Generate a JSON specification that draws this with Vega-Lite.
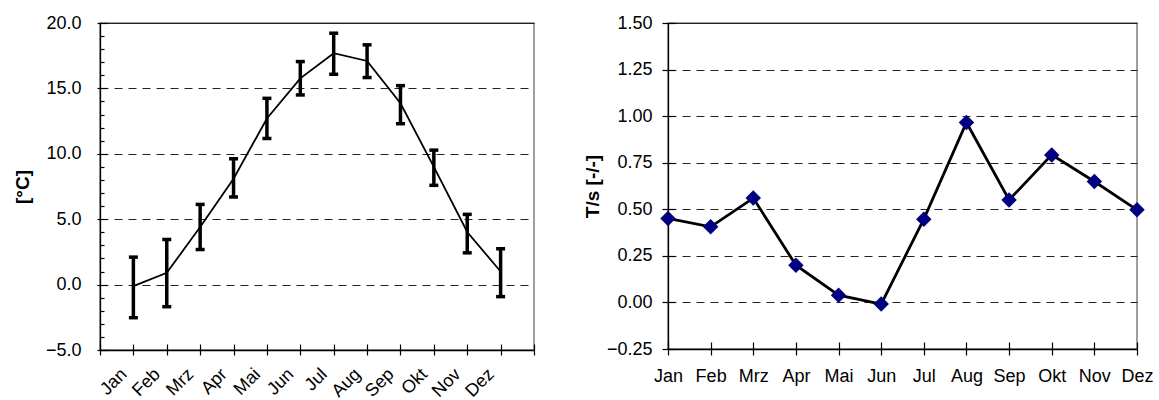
{
  "$schema": "https://vega.github.io/schema/vega-lite/v6.json",
  "background": "white",
  "padding": {"left": 12, "top": 13, "right": 0, "bottom": 0},
  "bounds": "flush",
  "spacing": 134,
  "config": {
    "view": {"stroke": "#808080", "strokeWidth": 1.5},
    "font": "Liberation Sans",
    "axis": {
      "labelFont": "Liberation Sans",
      "labelFontSize": 18,
      "labelColor": "black",
      "labelOverlap": false,
      "labelFlush": false,
      "titleFont": "Liberation Sans",
      "titleFontSize": 19,
      "titleFontWeight": "bold",
      "titleColor": "black",
      "tickColor": "black",
      "tickWidth": 1.2,
      "domainColor": "black",
      "domainWidth": 1.3,
      "gridColor": "#222222",
      "gridWidth": 1,
      "gridDash": [8, 6]
    }
  },
  "data": {
    "values": [
      {"i": 1, "m": "Jan", "t": -0.12, "lo": -2.53, "hi": 2.1, "ts": 0.451},
      {"i": 2, "m": "Feb", "t": 0.9, "lo": -1.69, "hi": 3.45, "ts": 0.406},
      {"i": 3, "m": "Mrz", "t": 4.4, "lo": 2.68, "hi": 6.13, "ts": 0.56},
      {"i": 4, "m": "Apr", "t": 8.1, "lo": 6.7, "hi": 9.62, "ts": 0.2},
      {"i": 5, "m": "Mai", "t": 12.7, "lo": 11.17, "hi": 14.24, "ts": 0.039},
      {"i": 6, "m": "Jun", "t": 15.77, "lo": 14.5, "hi": 17.05, "ts": -0.009},
      {"i": 7, "m": "Jul", "t": 17.69, "lo": 16.08, "hi": 19.22, "ts": 0.447},
      {"i": 8, "m": "Aug", "t": 17.1, "lo": 15.83, "hi": 18.33, "ts": 0.966},
      {"i": 9, "m": "Sep", "t": 13.86, "lo": 12.3, "hi": 15.21, "ts": 0.55},
      {"i": 10, "m": "Okt", "t": 9.0, "lo": 7.59, "hi": 10.28, "ts": 0.792},
      {"i": 11, "m": "Nov", "t": 4.02, "lo": 2.43, "hi": 5.37, "ts": 0.649},
      {"i": 12, "m": "Dez", "t": 1.0, "lo": -0.92, "hi": 2.74, "ts": 0.497}
    ]
  },
  "hconcat": [
    {
      "width": 434,
      "height": 327,
      "resolve": {"axis": {"x": "independent", "y": "independent"}},
      "layer": [
        {
          "mark": {"type": "rule", "color": "black", "strokeWidth": 3.5},
          "encoding": {
            "x": {"field": "i", "type": "quantitative", "scale": {"domain": [0, 13], "nice": false, "zero": false},
              "axis": {"orient": "top", "offset": -327, "values": [0,1,2,3,4,5,6,7,8,9,10,11,12,13], "labels": false, "domain": false, "grid": false, "tickSize": 6, "title": null}},
            "y": {"field": "lo", "type": "quantitative", "scale": {"domain": [-5, 20], "nice": false, "zero": false},
              "axis": {"orient": "right", "offset": -434, "values": [-5,-4,-3,-2,-1,0,1,2,3,4,5,6,7,8,9,10,11,12,13,14,15,16,17,18,19,20], "labels": false, "domain": false, "grid": false,
                "tickSize": {"condition": {"test": "datum.value % 5 == 0", "value": 7}, "value": 4}, "title": null}},
            "y2": {"field": "hi"}
          }
        },
        {
          "mark": {"type": "tick", "orient": "horizontal", "color": "black", "size": 9, "thickness": 3.5, "opacity": 1},
          "encoding": {
            "x": {"field": "i", "type": "quantitative", "axis": null},
            "y": {"field": "lo", "type": "quantitative", "axis": null}
          }
        },
        {
          "mark": {"type": "tick", "orient": "horizontal", "color": "black", "size": 9, "thickness": 3.5, "opacity": 1},
          "encoding": {
            "x": {"field": "i", "type": "quantitative", "axis": null},
            "y": {"field": "hi", "type": "quantitative", "axis": null}
          }
        },
        {
          "mark": {"type": "line", "color": "black", "strokeWidth": 1.8},
          "encoding": {
            "x": {"field": "i", "type": "quantitative",
              "axis": {"orient": "bottom", "values": [0,1,2,3,4,5,6,7,8,9,10,11,12,13], "grid": false, "title": null, "tickSize": 5,
                "labelAngle": -45, "labelAlign": "right", "labelBaseline": "top", "labelPadding": 10, "labelOffset": -16,
                "labelExpr": "datum.value >= 1 && datum.value <= 12 ? ['Jan','Feb','Mrz','Apr','Mai','Jun','Jul','Aug','Sep','Okt','Nov','Dez'][datum.value - 1] : ''"}},
            "y": {"field": "t", "type": "quantitative",
              "axis": {"orient": "left", "values": [-5, 0, 5, 10, 15, 20], "format": ".1f", "tickSize": 3, "labelPadding": 16,
                "grid": true,
                "gridDash": {"condition": {"test": "datum.value == 20", "value": []}, "value": [8, 6]},
                "gridColor": {"condition": {"test": "datum.value == -5", "value": "transparent"}, "value": "#222222"},
                "title": "[°C]", "titleX": -78, "titleY": 163.5, "titleAlign": "center", "titleBaseline": "middle", "titleAngle": -90}}
          }
        }
      ]
    },
    {
      "width": 469,
      "height": 326,
      "resolve": {"axis": {"x": "independent", "y": "independent"}},
      "layer": [
        {
          "mark": {"type": "line", "color": "black", "strokeWidth": 2.8},
          "encoding": {
            "x": {"field": "i", "type": "quantitative", "scale": {"domain": [1, 12], "nice": false, "zero": false},
              "axis": {"orient": "bottom", "values": [1,2,3,4,5,6,7,8,9,10,11,12], "grid": false, "title": null, "tickSize": 6, "labelPadding": 12,
                "labelExpr": "['Jan','Feb','Mrz','Apr','Mai','Jun','Jul','Aug','Sep','Okt','Nov','Dez'][datum.value - 1]"}},
            "y": {"field": "ts", "type": "quantitative", "scale": {"domain": [-0.25, 1.5], "nice": false, "zero": false},
              "axis": {"orient": "left", "values": [-0.25, 0, 0.25, 0.5, 0.75, 1, 1.25, 1.5], "format": ".2f", "tickSize": 6, "labelPadding": 10,
                "grid": true,
                "gridDash": {"condition": {"test": "datum.value == 1.5", "value": []}, "value": [8, 6]},
                "gridColor": {"condition": {"test": "datum.value == -0.25", "value": "transparent"}, "value": "#222222"},
                "title": "T/s [-/-]", "titleX": -76, "titleY": 163, "titleAlign": "center", "titleBaseline": "middle", "titleAngle": -90}}
          }
        },
        {
          "mark": {"type": "point", "shape": "diamond", "filled": true, "color": "#000080", "size": 240, "opacity": 1},
          "encoding": {
            "x": {"field": "i", "type": "quantitative",
              "axis": {"orient": "top", "offset": -326, "values": [1,2,3,4,5,6,7,8,9,10,11,12], "labels": false, "domain": false, "grid": false, "tickSize": 7, "title": null}},
            "y": {"field": "ts", "type": "quantitative",
              "axis": {"orient": "right", "offset": -469, "values": [-0.25, 0, 0.25, 0.5, 0.75, 1, 1.25, 1.5], "labels": false, "domain": false, "grid": false, "tickSize": 7, "title": null}}
          }
        }
      ]
    }
  ]
}
